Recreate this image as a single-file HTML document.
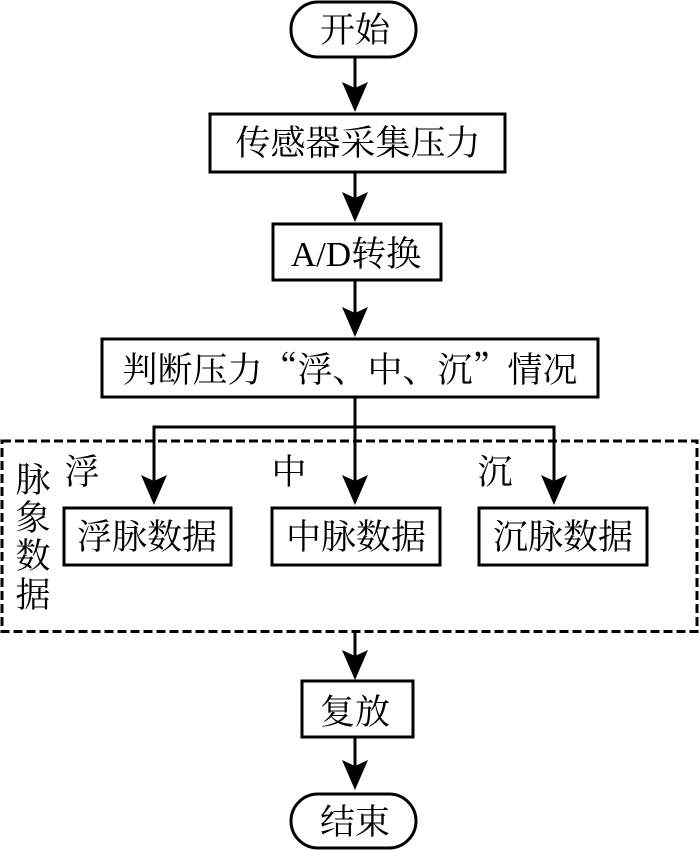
<!DOCTYPE html>
<html><head><meta charset="utf-8">
<style>
html,body{margin:0;padding:0;background:#fff;width:700px;height:850px;overflow:hidden}
svg{display:block}
text{font-family:"Liberation Serif","Noto Serif CJK SC",serif;font-size:35px;fill:#000;text-anchor:middle}
.q{font-family:"Noto Serif CJK SC",serif}
</style></head><body>
<svg width="700" height="850" viewBox="0 0 700 850">
<defs>
<path id="h" d="M-13,-30 L0,-24 L13,-30 L0,0 Z" fill="#000"/>
</defs>
<g fill="none" stroke="#000" stroke-width="3">
<rect x="291" y="2" width="125" height="55" rx="27" ry="27"/>
<rect x="210" y="114" width="295" height="58"/>
<rect x="273" y="224" width="168" height="56"/>
<rect x="102" y="339" width="496" height="58"/>
<rect x="64" y="508" width="167" height="57"/>
<rect x="272" y="508" width="168" height="57"/>
<rect x="479" y="508" width="168" height="57"/>
<rect x="2" y="441" width="695" height="190.500" stroke-dasharray="9 4" stroke-width="3"/>
<rect x="302" y="681" width="111" height="56"/>
<rect x="291" y="794" width="125" height="54" rx="27" ry="27"/>
<path d="M355,57V100M355,172V212M355,280V325M355,397V490M355,631V668M355,737V778"/>
<path d="M154,490V427H554V490"/>
</g>
<use href="#h" x="355" y="112"/>
<use href="#h" x="355" y="222"/>
<use href="#h" x="355" y="337"/>
<use href="#h" x="154" y="505"/>
<use href="#h" x="355" y="505"/>
<use href="#h" x="554" y="505"/>
<use href="#h" x="355" y="680"/>
<use href="#h" x="355" y="790"/>
<text x="355" y="42">开始</text>
<text x="358" y="155">传感器采集压力</text>
<text x="356" y="266">A/D转换</text>
<text x="350" y="382">判断压力<tspan class="q">“</tspan>浮、中、沉<tspan class="q">”</tspan>情况</text>
<text x="147" y="549">浮脉数据</text>
<text x="356" y="549">中脉数据</text>
<text x="563" y="549">沉脉数据</text>
<text x="82" y="484">浮</text>
<text x="289" y="484">中</text>
<text x="495" y="484">沉</text>
<text x="33" y="492">脉</text>
<text x="33" y="530">象</text>
<text x="33" y="568">数</text>
<text x="33" y="607">据</text>
<text x="355" y="724">复放</text>
<text x="355" y="834">结束</text>
</svg>
</body></html>
